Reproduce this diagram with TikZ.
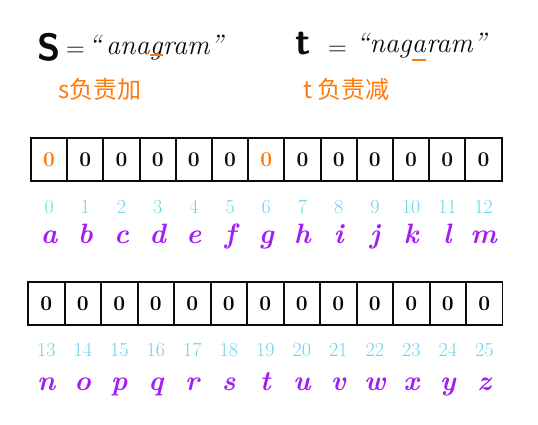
\documentclass[tikz,border=0pt]{standalone}
\usepackage{fontspec}
\newfontfamily\cjk{Noto Sans CJK SC}
\usetikzlibrary{positioning}
\definecolor{ink}{HTML}{0B0B0B}
\definecolor{hl}{HTML}{FF7A0A}
\definecolor{idx}{HTML}{6CD2EA}
\definecolor{ltr}{HTML}{A21EF2}

\begin{document}
\begin{tikzpicture}[x=1pt,y=-1pt,
    cell/.style={draw=ink,line width=1.8pt,minimum width=36.3pt,
        minimum height=43pt,inner sep=0pt,
        font=\fontsize{21}{24}\selectfont\bfseries},
    idxlbl/.style={idx,font=\fontsize{20}{24}\selectfont,anchor=base},
    ltrlbl/.style={ltr,font=\fontsize{28}{32}\selectfont\bfseries\itshape,anchor=base},
    word/.style={ink,inner sep=0pt,font=\fontsize{28}{32}\selectfont\itshape},
    note/.style={hl,inner sep=0pt,anchor=base west,
        font=\fontsize{24}{28}\selectfont\cjk},
  ]
  \useasboundingbox (0,0) rectangle (538,424);

  % ============================================================= HEADER
  % s = "anagram", orange mark under the g
  \node[ink,inner sep=0pt,anchor=base west,
        font=\fontsize{38}{40}\selectfont\sffamily\bfseries] (sName) at (37,60) {S};
  \node[ink,inner sep=0pt,anchor=base west,font=\fontsize{26}{28}\selectfont]
    (sEq) at (66,56) {=};
  \node[word,anchor=base west] (sQ) at (88,54) {``\,ana};
  \node[word,anchor=base west] (sG) at (sQ.base east) {g};
  \node[word,anchor=base west] (sR) at (sG.base east) {ram''};
  \draw[hl,line width=1.6pt] ([yshift=-1pt]sG.base west) -- ([yshift=-1pt]sG.base east);

  % t = "nagaram", orange mark under the second a
  \node[ink,inner sep=0pt,anchor=base west,
        font=\fontsize{38}{40}\selectfont\sffamily\bfseries] (tName) at (295,54) {t};
  \node[ink,inner sep=0pt,anchor=base west,font=\fontsize{26}{28}\selectfont]
    (tEq) at (328,55) {=};
  \node[word,anchor=base west] (tQ) at (356,52) {``nag};
  \node[word,anchor=base west] (tA) at (tQ.base east) {a};
  \node[word,anchor=base west] (tR) at (tA.base east) {ram''};
  \draw[hl,line width=1.6pt] ([yshift=-8pt]tA.base west) -- ([yshift=-8pt]tA.base east);

  \node[note] (sNote) at (58,98) {s负责加};
  \node[note] (tNote) at (303,98) {t 负责减};

  % ============================================================= ROW 1
  % letters a..m, orange 0 under a and g
  \foreach \i/\ch/\col in {0/a/hl,1/b/ink,2/c/ink,3/d/ink,4/e/ink,5/f/ink,
      6/g/hl,7/h/ink,8/i/ink,9/j/ink,10/k/ink,11/l/ink,12/m/ink}{
    \pgfmathsetmacro\cx{31+36.2*(\i+0.5)}
    \node[cell,text=\col] (top\i) at (\cx,159.5) {0};
    \node[idxlbl] (idx\i) at (top\i.center |- 0,213) {\i};
    \node[ltrlbl] (ch\i) at (top\i.center |- 0,243) {\ch};
  }

  % ============================================================= ROW 2
  % letters n..z
  \foreach \i/\ch in {13/n,14/o,15/p,16/q,17/r,18/s,19/t,20/u,21/v,
      22/w,23/x,24/y,25/z}{
    \pgfmathsetmacro\cx{28+36.5*(\i-13+0.5)}
    \node[cell] (bot\i) at (\cx,303.5) {0};
    \node[idxlbl] (idx\i) at (bot\i.center |- 0,356) {\i};
    \node[ltrlbl] (ch\i) at (bot\i.center |- 0,390) {\ch};
  }

\end{tikzpicture}
\end{document}
